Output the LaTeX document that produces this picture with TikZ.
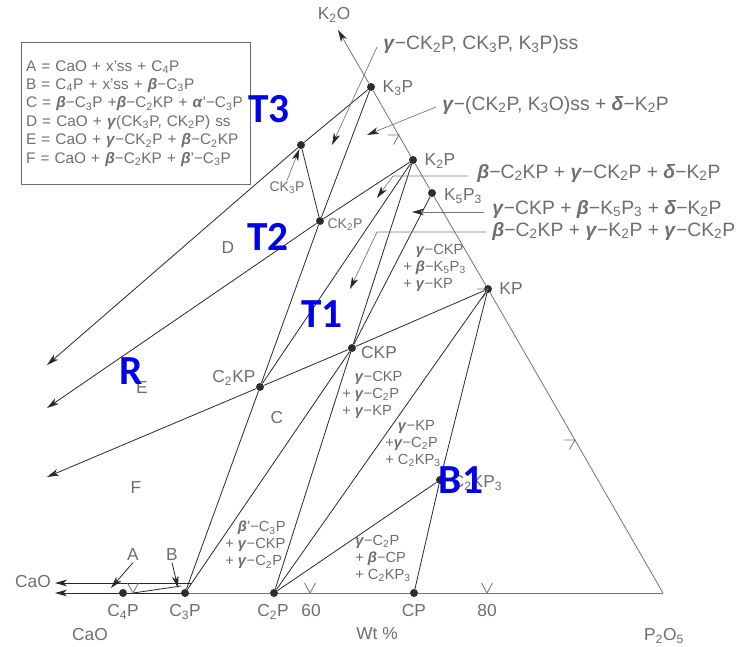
\documentclass[tikz,border=0pt]{standalone}
\usepackage{fontspec}
\setmainfont{Liberation Sans}
\newfontfamily\markfont{Carlito}
\usepackage{tikz}
\usetikzlibrary{arrows.meta, positioning, calc}
\definecolor{tiegray}{RGB}{40, 40, 40}
\definecolor{edgegray}{RGB}{115, 115, 115}
\definecolor{textgray}{RGB}{110, 110, 110}
\definecolor{dotgray}{RGB}{45, 45, 45}
\definecolor{markblue}{RGB}{0, 0, 235}
\newcommand{\grk}[1]{\textbf{\textit{#1}}}
\newcommand{\dn}[1]{\textsubscript{#1}}

\begin{document}
\begin{tikzpicture}[x=0.75pt, y=-0.75pt,
    tie/.style={tiegray, line width=0.6pt},
    edge/.style={edgegray, line width=0.6pt},
    lead/.style={edgegray, line width=0.5pt},
    tip/.style={-{Stealth[length=9pt, width=5pt, inset=2.5pt, color=tiegray]}},
    dot/.style={circle, fill=dotgray, inner sep=0pt, minimum size=6pt},
    cmp/.style={textgray, font=\fontsize{13}{15}\selectfont, inner sep=1pt},
    cmpsm/.style={textgray, font=\fontsize{10.5}{12}\selectfont, inner sep=1pt},
    phase/.style={textgray, font=\fontsize{11}{12.75}\selectfont, align=left, anchor=north west, inner sep=0pt},
    assem/.style={textgray, font=\fontsize{14.5}{17}\selectfont, anchor=west, inner sep=0pt},
    region/.style={textgray, font=\fontsize{13}{15}\selectfont, inner sep=1pt},
    legend/.style={draw=edgegray, line width=0.6pt, textgray, font=\fontsize{11.5}{13.8}\selectfont, align=left, anchor=north west, text width=165pt, minimum height=106.5pt, inner xsep=3.5pt, inner ysep=3pt},
    ptmark/.style={markblue, font=\markfont\bfseries\fontsize{31}{33}\selectfont, inner sep=0pt},
    tick/.style={edgegray, line width=0.6pt}]
    \useasboundingbox (0,0) rectangle (753,646);

    % Corners and free ends
    \coordinate (P2O5c) at (663,593);
    \coordinate (K2Oend) at (338,30);
    \coordinate (CaOlow) at (55,593);
    \coordinate (CaOup) at (55,583);
    \coordinate (Bend) at (192,583);
    \coordinate (xs1) at (133,593);
    \coordinate (xs2) at (181,586);
    \coordinate (arrD) at (47,365);
    \coordinate (arrR) at (47,408);
    \coordinate (arrE) at (47,477);

    % Compounds
    \node[dot] (K3P) at (371,87) {};
    \node[dot] (K2P) at (413,160) {};
    \node[dot] (K5P3) at (432,193) {};
    \node[dot] (KP) at (488,289) {};
    \node[dot] (CK3P) at (301,145) {};
    \node[dot] (CK2P) at (320,221) {};
    \node[dot] (CKP) at (352,348) {};
    \node[dot] (C2KP) at (260,387) {};
    \node[dot] (C2KP3) at (440,480) {};
    \node[dot] (C4P) at (123,593) {};
    \node[dot] (C3P) at (185,593) {};
    \node[dot] (C2P) at (274,593) {};
    \node[dot] (CP) at (414,593) {};

    % Triangle edges
    \draw[edge] (P2O5c) -- (KP) -- (K5P3) -- (K2P) -- (K3P);
    \draw[edge, tip] (K3P) -- (K2Oend);
    \draw[edge] (P2O5c) -- (CP) -- (C2P) -- (C3P);
    \draw[tie, tip] (C3P) -- (C4P) -- (CaOlow);
    \draw[tie, tip] (Bend) -- (CaOup);
    \draw[tie] (xs1) -- (xs2);

    % Scale ticks
    \foreach \x in {133,310,487}
        \draw[tick] (\x-5.5,583) -- (\x,593) -- (\x+5.5,583);
    \foreach \x/\y in {575/440, 488/289, 399/135}
        \draw[tick] (\x-11,\y) -- (\x,\y) -- (\x-5.5,\y+9.5);

    % Tie lines
    \draw[tie] (C3P) -- (C2KP) -- (CK2P) -- (K3P);
    \draw[tie] (C3P) -- (CKP);
    \draw[tie] (C2P) -- (CKP) -- (K2P);
    \draw[tie] (C2P) -- (KP);
    \draw[tie] (C2P) -- (C2KP3);
    \draw[tie] (CP) -- (C2KP3) -- (KP);
    \draw[tie] (K5P3) -- (CKP);
    \draw[tie] (K2P) -- (C2KP);
    \draw[tie] (CK3P) -- (CK2P);
    \draw[tie, tip] (KP) -- (CKP) -- (C2KP) -- (arrE);
    \draw[tie, tip] (K2P) -- (CK2P) -- (arrR);
    \draw[tie, tip] (K3P) -- (CK3P) -- (arrD);

    % Compound labels
    \node[cmp] at (334,15) {K\dn{2}O};
    \node[cmp] at (398,88) {K\dn{3}P};
    \node[cmp] at (440,161) {K\dn{2}P};
    \node[cmp] at (463,196) {K\dn{5}P\dn{3}};
    \node[cmp] at (511,289) {KP};
    \node[cmp] at (379,353) {CKP};
    \node[cmp] at (234,378) {C\dn{2}KP};
    \node[cmpsm] at (345,225) {CK\dn{2}P};
    \node[cmpsm] (ck3lab) at (287,188) {CK\dn{3}P};
    \node[cmp] at (477,483) {C\dn{2}KP\dn{3}};
    \node[cmp] at (123,612) {C\dn{4}P};
    \node[cmp] at (185,612) {C\dn{3}P};
    \node[cmp] at (273,612) {C\dn{2}P};
    \node[cmp] at (311,611) {60};
    \node[cmp] at (414,611) {CP};
    \node[cmp] at (487,611) {80};
    \node[cmp] at (90,635) {CaO};
    \node[cmp] at (377,634) {Wt \%};
    \node[cmp] at (664,636) {P\dn{2}O\dn{5}};
    \node[cmp] at (33,582) {CaO};
    \draw[lead, tip] (ck3lab.north) -- (CK3P);

    % Phase fields
    \node[region] at (228,248) {D};
    \node[region] at (142,388) {E};
    \node[region] at (277,418) {C};
    \node[region] at (136,488) {F};
    \node[region] (Alab) at (133,555) {A};
    \node[region] (Blab) at (172,555) {B};
    \coordinate (Atip) at (111,588);
    \coordinate (Btip) at (178,588);
    \draw[tie, tip] (Alab.south) -- (Atip);
    \draw[tie, tip] (Blab.south) -- (Btip);

    \node[phase] at (403,244) {\phantom{+ }\grk{γ}−CKP\\+ \grk{β}−K\dn{5}P\dn{3}\\+ \grk{γ}−KP};
    \node[phase] at (342,371) {\phantom{+ }\grk{γ}−CKP\\+ \grk{γ}−C\dn{2}P\\+ \grk{γ}−KP};
    \node[phase] at (385,420) {\phantom{+ }\grk{γ}−KP\\+\grk{γ}−C\dn{2}P\\+ C\dn{2}KP\dn{3}};
    \node[phase] at (225,521) {\phantom{+ }\grk{β}'−C\dn{3}P\\+ \grk{γ}−CKP\\+ \grk{γ}−C\dn{2}P};
    \node[phase] at (355,535) {\grk{γ}−C\dn{2}P\\+ \grk{β}−CP\\+ C\dn{2}KP\dn{3}};

    % Assemblages on the K2O side
    \node[assem] (asm1) at (383,45) {\grk{γ}−CK\dn{2}P, CK\dn{3}P, K\dn{3}P)ss};
    \node[assem] (asm2) at (442,105) {\grk{γ}−(CK\dn{2}P, K\dn{3}O)ss + \grk{δ}−K\dn{2}P};
    \node[assem] (asm3) at (477,173) {\grk{β}−C\dn{2}KP + \grk{γ}−CK\dn{2}P + \grk{δ}−K\dn{2}P};
    \node[assem] (asm4) at (492,209) {\grk{γ}−CKP + \grk{β}−K\dn{5}P\dn{3} + \grk{δ}−K\dn{2}P};
    \node[assem] (asm5) at (492,231) {\grk{β}−C\dn{2}KP + \grk{γ}−K\dn{2}P + \grk{γ}−CK\dn{2}P};
    \coordinate (a1) at (332,145);
    \coordinate (a2) at (367,135);
    \coordinate (a3) at (377,198);
    \coordinate (a4) at (412,212);
    \coordinate (a5) at (350,289);
    \draw[lead, tip] ($(asm1.west)+(-6,2)$) -- (a1);
    \draw[lead, tip] ($(asm2.west)+(-6,2)$) -- (a2);
    \draw[lead, tip] ($(asm3.west)+(-9,3)$) -- (393,176) -- (a3);
    \draw[lead, tip] ($(asm4.west)+(-8,3)$) -- (a4);
    \draw[lead, tip] ($(asm5.west)+(-6,1)$) -- (377,232) -- (a5);

    % Key
    \node[legend] (key) at (21,42) {A = CaO + x'ss + C\dn{4}P\\
        B = C\dn{4}P + x'ss + \grk{β}−C\dn{3}P\\
        C = \grk{β}−C\dn{3}P +\grk{β}−C\dn{2}KP + \grk{α}'−C\dn{3}P\\
        D = CaO + \grk{γ}(CK\dn{3}P, CK\dn{2}P) ss\\
        E = CaO + \grk{γ}−CK\dn{2}P + \grk{β}−C\dn{2}KP\\
        F = CaO + \grk{β}−C\dn{2}KP + \grk{β}'−C\dn{3}P};

    % Marked points
    \node[ptmark] at (269,109) {T3};
    \node[ptmark] at (268,237) {T2};
    \node[ptmark] at (322,314) {T1};
    \node[ptmark] at (131,371) {R};
    \node[ptmark] at (461,480) {B1};
\end{tikzpicture}
\end{document}
